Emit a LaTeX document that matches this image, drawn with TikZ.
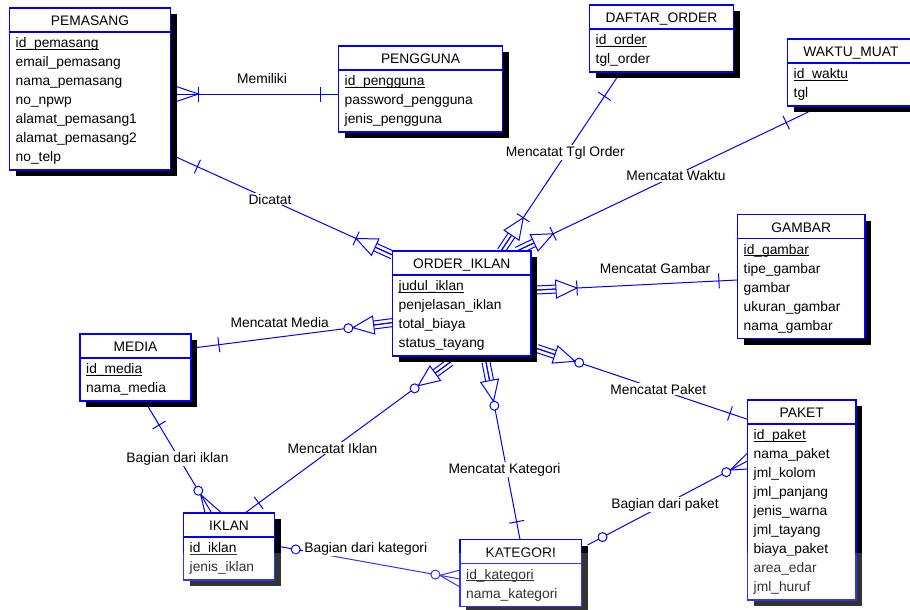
\documentclass[tikz,border=0pt]{standalone}
\usepackage{fontspec}
\setmainfont{Liberation Sans}
\usetikzlibrary{calc}
\pgfdeclarelayer{back}
\pgfdeclarelayer{conns}
\pgfsetlayers{back,conns,main}
\newcommand\etf{\fontsize{13.8}{16}\selectfont}
\tikzset{
 conn/.style={draw=blue, line width=1pt},
 ebox/.style={draw=blue, line width=1.2pt, fill=white, inner sep=0pt, outer sep=0pt},
 eline/.style={draw=blue, line width=1.2pt},
 shadowbox/.style={fill=black},
 rowtext/.style={inner sep=0pt, anchor=base west, font=\etf},
 titletext/.style={inner sep=0pt, anchor=base, font=\etf},
 lbl/.style={fill=white, inner sep=1pt, anchor=base, font=\etf},
 keyline/.style={draw=black, line width=0.8pt},
 symfill/.style={draw=blue, line width=1pt, fill=white},
}
\newcommand\entity[7]{%
 \pgfmathsetmacro\eh{29+19*#5}%
 \fill[shadowbox] (#2+6,#3+6) rectangle ++(#4,\eh);
 \node[ebox, minimum width=#4pt, minimum height=\eh pt, anchor=north west] (#1) at (#2,#3) {};
 \draw[eline] (#2,#3+24) -- ++(#4,0);
 \node[titletext] (#1-t) at (#2+#4/2,#3+17.5) {#6};
 \foreach \r [count=\i from 0] in {#7} {\node[rowtext] (#1-\i) at (#2+6,#3+39.5+19*\i) {\r};}
 \draw[keyline] ($(#1-0.base west)+(0,1.8)$) -- ($(#1-0.base east)+(0,1.8)$);
}
\newcommand\barat[3]{%
 \coordinate (tmpP) at ($(#1)!#3pt!(#2)$);
 \draw[conn] ($(tmpP)!7.5pt!90:(#2)$) -- ($(tmpP)!7.5pt!-90:(#2)$);
}
\newcommand\circat[3]{\filldraw[symfill] ($(#1)!#3pt!(#2)$) circle (4.5pt);}
\newcommand\depend[3]{%
 \coordinate (tmpB) at ($(#1)!19pt!(#2)$);
 \coordinate (tmpA) at ($(#1)!40pt!(#2)$);
 \draw[conn] ($(#1)!4pt!90:(#2)$) -- ($(tmpB)!4pt!90:(#2)$);
 \draw[conn] ($(#1)!4pt!-90:(#2)$) -- ($(tmpB)!4pt!-90:(#2)$);
 \draw[conn] (#1) -- (tmpB);
 \filldraw[symfill] ($(tmpB)!9pt!90:(#2)$) -- (tmpA) -- ($(tmpB)!9pt!-90:(#2)$) -- cycle;
 \ifnum#3=0 \draw[conn] ($(tmpA)!7.5pt!90:(#2)$) -- ($(tmpA)!7.5pt!-90:(#2)$);
 \else \filldraw[symfill] ($(#1)!44.5pt!(#2)$) circle (4.5pt); \fi
}
\begin{document}
\begin{tikzpicture}[x=1pt,y=-1pt]
\begin{pgfonlayer}{back}
\fill[white] (0,0) rectangle (910,610);
\end{pgfonlayer}
\useasboundingbox (0,0) rectangle (910,610);
\clip (0,0) rectangle (910,610);

\entity{pemasang}{9.5}{8}{161}{7}{PEMASANG}{id\_pemasang,email\_pemasang,nama\_pemasang,no\_npwp,alamat\_pemasang1,alamat\_pemasang2,no\_telp}
\entity{pengguna}{338.5}{46}{164}{3}{PENGGUNA}{id\_pengguna,password\_pengguna,jenis\_pengguna}
\entity{daftar}{589.5}{5}{144}{2}{DAFTAR\_ORDER}{id\_order,tgl\_order}
\entity{waktu}{787.5}{39}{127}{2}{WAKTU\_MUAT}{id\_waktu,tgl}
\entity{order}{392.5}{251}{138.5}{4}{ORDER\_IKLAN}{judul\_iklan,penjelasan\_iklan,total\_biaya,status\_tayang}
\entity{gambar}{737.5}{214.5}{127.5}{5}{GAMBAR}{id\_gambar,tipe\_gambar,gambar,ukuran\_gambar,nama\_gambar}
\entity{media}{80}{334}{111}{2}{MEDIA}{id\_media,nama\_media}
\entity{iklan}{183.5}{513}{91}{2}{IKLAN}{id\_iklan,jenis\_iklan}
\entity{kategori}{460}{539.5}{121.5}{2}{KATEGORI}{id\_kategori,nama\_kategori}
\entity{paket}{747.5}{400}{108.5}{9}{PAKET}{id\_paket,nama\_paket,jml\_kolom,jml\_panjang,jenis\_warna,jml\_tayang,biaya\_paket,area\_edar,jml\_huruf}

\begin{pgfonlayer}{conns}
% end points
\coordinate (mA) at ($(pemasang.north east)+(0,86)$);
\coordinate (mB) at ($(pengguna.north west)+(0,48)$);
\coordinate (dA) at ($(pemasang.north east)+(0,146.5)$);
\coordinate (dB) at ($(order.north west)+(0,4)$);
\coordinate (tA) at ($(daftar.south west)+(27.2,6)$);
\coordinate (tB) at ($(order.north west)+(108.5,0)$);
\coordinate (wA) at ($(waktu.south west)+(20.8,6)$);
\coordinate (wB) at ($(order.north west)+(124.5,0)$);
\coordinate (gA) at ($(order.north east)+(6,39)$);
\coordinate (gB) at ($(gambar.north west)+(0,65.5)$);
\coordinate (pA) at ($(order.north east)+(6,97.5)$);
\coordinate (pB) at ($(paket.north west)+(0,19.3)$);
\coordinate (kA) at ($(order.south west)+(93.5,6)$);
\coordinate (kB) at ($(kategori.north west)+(60,0)$);
\coordinate (iA) at ($(order.south west)+(58,6)$);
\coordinate (iB) at ($(iklan.north west)+(61.5,0)$);
\coordinate (eA) at ($(order.north west)+(0,71.6)$);
\coordinate (eB) at ($(media.north east)+(6,13.5)$);
\coordinate (bA) at ($(media.south west)+(68.3,6)$);
\coordinate (bB) at ($(iklan.north west)+(28.2,0)$);
\coordinate (cA) at ($(iklan.north east)+(6,33.7)$);
\coordinate (cB) at ($(kategori.north west)+(0,39.5)$);
\coordinate (qA) at ($(kategori.north east)+(6,5.5)$);
\coordinate (qB) at ($(paket.north west)+(0,61)$);
% main lines
\draw[conn] (mA) -- (mB);
\draw[conn] (dA) -- (dB);
\draw[conn] (tA) -- (tB);
\draw[conn] (wA) -- (wB);
\draw[conn] (gA) -- (gB);
\draw[conn] (pA) -- (pB);
\draw[conn] (kA) -- (kB);
\draw[conn] (iA) -- (iB);
\draw[conn] (eA) -- (eB);
\draw[conn] (bA) -- (bB);
\draw[conn] (cA) -- (cB);
\draw[conn] (qA) -- (qB);
% Memiliki
\coordinate (mC) at ($(mA)!28pt!(mB)$);
\draw[conn] ($(mA)!9.5pt!90:(mB)$) -- (mC) -- ($(mA)!9.5pt!-90:(mB)$);
\barat{mA}{mB}{28}
\barat{mB}{mA}{18}
% Dicatat
\barat{dA}{dB}{29.5}
\depend{dB}{dA}{0}
% Tgl order
\barat{tA}{tB}{22}
\depend{tB}{tA}{0}
% Waktu
\barat{wA}{wB}{24.5}
\depend{wB}{wA}{0}
% Gambar
\depend{gA}{gB}{0}
\barat{gB}{gA}{18.6}
% Paket
\depend{pA}{pB}{1}
\barat{pB}{pA}{18.5}
% Kategori
\depend{kA}{kB}{1}
\barat{kB}{kA}{18}
% Iklan
\depend{iA}{iB}{1}
\barat{iB}{iA}{17}
% Media
\depend{eA}{eB}{1}
\barat{eB}{eA}{22}
% Bagian dari iklan
\barat{bA}{bB}{21}
\coordinate (bC) at ($(bB)!21.5pt!(bA)$);
\draw[conn] ($(bB)+(-6.7,0)$) -- (bC) -- ($(bB)+(10,0)$);
\circat{bB}{bA}{26}
% Bagian dari kategori
\circat{cA}{cB}{15.5}
\coordinate (cC) at ($(cB)!20.5pt!(cA)$);
\draw[conn] ($(cB)+(0,-9)$) -- (cC) -- ($(cB)+(0,8)$);
\circat{cB}{cA}{25}
% Bagian dari paket
\circat{qA}{qB}{17}
\coordinate (qC) at ($(qB)!19.5pt!(qA)$);
\draw[conn] ($(qB)+(0,-8)$) -- (qC) -- ($(qB)+(0,8)$);
\circat{qB}{qA}{24}
% labels
\node[lbl] (l1) at (262,84) {Memiliki};
\node[lbl] (l2) at (270,204) {Dicatat};
\node[lbl] (l3) at (565.3,156) {Mencatat Tgl Order};
\node[lbl] (l4) at (676,180.7) {Mencatat Waktu};
\node[lbl] (l5) at (655,273.3) {Mencatat Gambar};
\node[lbl] (l6) at (658.3,394.3) {Mencatat Paket};
\node[lbl] (l7) at (504.5,473.3) {Mencatat Kategori};
\node[lbl] (l8) at (332.5,453.3) {Mencatat Iklan};
\node[lbl] (l9) at (279.7,327.7) {Mencatat Media};
\node[lbl] (l10) at (177.5,462) {Bagian dari iklan};
\node[lbl] (l11) at (365.8,552.3) {Bagian dari kategori};
\node[lbl] (l12) at (665,508.3) {Bagian dari paket};
\end{pgfonlayer}
\fill[white, opacity=0.2] (0,553) rectangle (910,610);
\end{tikzpicture}
\end{document}
